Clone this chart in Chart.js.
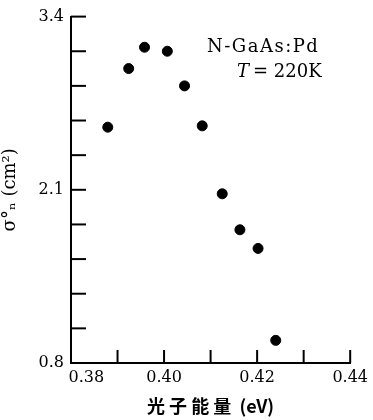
<!DOCTYPE html>
<html>
  <head>
    <meta charset="utf-8" />
    <title>σ vs photon energy</title>
    <style>
      html, body { margin: 0; padding: 0; background: #fff; }
      #wrap { width: 373px; height: 420px; position: relative; }
    </style>
  </head>
  <body>
    <div id="wrap"><canvas id="screen"></canvas></div>
    <script src="https://cdn.jsdelivr.net/npm/chart.js@4.4.0/dist/chart.umd.min.js"></script>
    <script>
      // photon energy (eV) and cross section
      const photonEnergy = [0.3879, 0.3924, 0.3958, 0.4007, 0.4044, 0.4082, 0.4125, 0.4163, 0.4202, 0.4240];
      const sigma = [2.57, 3.01, 3.17, 3.14, 2.88, 2.58, 2.07, 1.80, 1.66, 0.97];

      const xMin = 0.38, xMax = 0.44, xStep = 0.01;
      const yMin = 0.8, yMax = 3.4, yStep = 0.26;
      const xTickLabels = ["0.38", "0.40", "0.42", "0.44"];
      const yTickLabels = ["0.8", "2.1", "3.4"];

      const sampleName = "N-GaAs:Pd";
      const tempLabel = "= 220K";

      const serif = "'DejaVu Serif', 'Liberation Serif', serif";

      // small inward tick marks + the text box in the corner
      const innerTicks = {
        id: "innerTicks",
        afterDraw(chart) {
          const c = chart.ctx;
          const xs = chart.scales.x, ys = chart.scales.y;
          const area = chart.chartArea;
          c.save();
          c.strokeStyle = "#000";
          c.lineWidth = 2;
          ys.ticks.forEach(t => {
            const py = ys.getPixelForValue(t.value);
            c.beginPath();
            c.moveTo(area.left, py);
            c.lineTo(area.left + 15, py);
            c.stroke();
          });
          xs.ticks.forEach(t => {
            const px = xs.getPixelForValue(t.value);
            c.beginPath();
            c.moveTo(px, area.bottom);
            c.lineTo(px, area.bottom - 13);
            c.stroke();
          });

          c.fillStyle = "#000";
          c.textBaseline = "middle";
          c.textAlign = "left";
          c.font = "18px " + serif;
          c.letterSpacing = "1.5px";
          c.fillText(sampleName, area.left + 136, area.top + 31);
          c.font = "italic 18px " + serif;
          c.letterSpacing = "0px";
          c.fillText("T", area.left + 166, area.top + 56);
          const tw = c.measureText("T").width;
          c.font = "18px " + serif;
          c.fillText(tempLabel, area.left + 170 + tw, area.top + 56);
          c.restore();
        }
      };

      const ctx = document.getElementById("screen").getContext("2d");

      const chart = new Chart(ctx, {
        type: "scatter",
        data: {
          datasets: [
            {
              data: photonEnergy.map((e, i) => ({ x: e, y: sigma[i] })),
              backgroundColor: "#000",
              borderColor: "#000",
              pointRadius: 5,
              pointHoverRadius: 5
            }
          ]
        },
        options: {
          responsive: true,
          maintainAspectRatio: false,
          animation: false,
          layout: { padding: { top: 16, right: 21, left: 0, bottom: 2 } },
          plugins: {
            legend: { display: false },
            tooltip: { enabled: false }
          },
          scales: {
            x: {
              type: "linear",
              min: xMin,
              max: xMax,
              ticks: {
                stepSize: xStep,
                autoSkip: false,
                maxRotation: 0,
                padding: 5,
                color: "#000",
                font: { family: serif, size: 16 },
                callback: (v) => {
                  const k = Math.round((v - xMin) / xStep);
                  if (k % 2 !== 0) return "";
                  // first label sits a bit right of its tick, clear of 0.8
                  return k === 0 ? "      " + xTickLabels[0] : xTickLabels[k / 2];
                }
              },
              grid: { drawOnChartArea: false, drawTicks: false },
              border: { color: "#000", width: 2 },
              title: {
                display: true,
                text: "光 子 能 量  (eV)",
                color: "#000",
                font: { family: "'Noto Sans CJK SC', sans-serif", size: 18, weight: "bold" },
                padding: { top: 0, bottom: 1 }
              },
              afterFit: (s) => { s.height = 55; }
            },
            y: {
              type: "linear",
              min: yMin,
              max: yMax,
              ticks: {
                stepSize: yStep,
                autoSkip: false,
                padding: 7,
                color: "#000",
                font: { family: serif, size: 16 },
                callback: (v) => {
                  const k = Math.round((v - yMin) / yStep);
                  return k % 5 === 0 ? yTickLabels[k / 5] : "";
                }
              },
              grid: { drawOnChartArea: false, drawTicks: false },
              border: { color: "#000", width: 2 },
              title: {
                display: true,
                text: "σ°ₙ (cm²)",
                color: "#000",
                font: { family: serif, size: 18 },
                padding: { top: 0, bottom: 3 }
              },
              afterFit: (s) => { s.width = 71; }
            }
          }
        },
        plugins: [innerTicks]
      });
    </script>
  </body>
</html>
